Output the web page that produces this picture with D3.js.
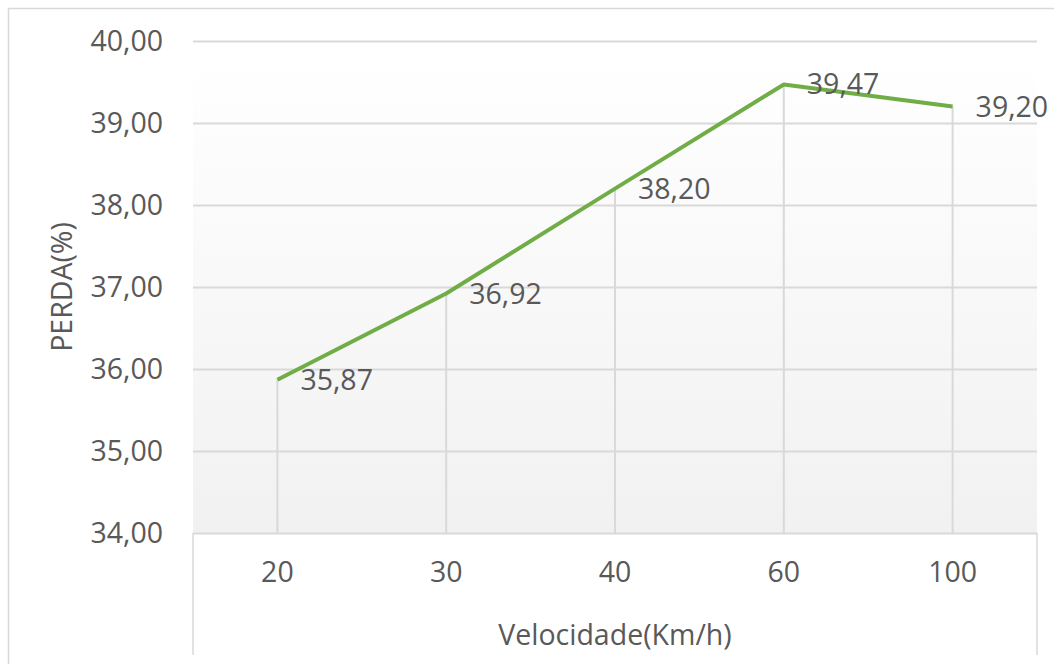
<!DOCTYPE html>
<html>
<head>
<meta charset="utf-8">
<script src="https://cdn.jsdelivr.net/npm/d3@7"></script>
<style>
  html, body { margin: 0; padding: 0; background: #fff; }
  svg text { font-family: "Open Sans", "Noto Sans", sans-serif; fill: #595959; }
</style>
</head>
<body>
<svg id="chart" width="1054" height="664"></svg>
<script>
// Speed categories (km/h) and loss values (%)
const categories = ["20", "30", "40", "60", "100"];
const perda = [35.87, 36.92, 38.20, 39.47, 39.20];
const yTicks = [34, 35, 36, 37, 38, 39, 40];
const xTitle = "Velocidade(Km/h)";
const yTitle = "PERDA(%)";

const svg = d3.select("#chart");
const plot = { left: 193, right: 1037, top: 41, bottom: 533 };
const fmt = v => d3.format(".2f")(v).replace(".", ",");
const gridColor = "#d9d9d9";
const fontSize = 28.5;

const x = d3.scaleBand().domain(categories).range([plot.left, plot.right]);
const y = d3.scaleLinear().domain([34, 40]).range([plot.bottom, plot.top]);
const cx = c => x(c) + x.bandwidth() / 2;

// outer chart frame (top and left edges)
svg.append("path")
  .attr("d", "M8.5,664 V8.5 H1054")
  .attr("fill", "none").attr("stroke", gridColor).attr("stroke-width", 1.5);

// plot area fill: white at the top fading to light grey
const defs = svg.append("defs");
const grad = defs.append("linearGradient").attr("id", "plotFill")
  .attr("x1", 0).attr("y1", 0).attr("x2", 0).attr("y2", 1);
grad.append("stop").attr("offset", "0%").attr("stop-color", "#ffffff");
grad.append("stop").attr("offset", "100%").attr("stop-color", "#f1f1f1");
svg.append("rect")
  .attr("x", plot.left).attr("y", y(39.8))
  .attr("width", plot.right - plot.left).attr("height", plot.bottom - y(39.8))
  .attr("fill", "url(#plotFill)");

// horizontal gridlines + y tick labels
const yAxis = svg.append("g")
  .attr("transform", `translate(${plot.left},0)`)
  .call(d3.axisLeft(y).tickValues(yTicks).tickFormat(fmt)
    .tickSize(-(plot.right - plot.left)).tickPadding(30));
yAxis.select(".domain").remove();
yAxis.selectAll(".tick line").attr("stroke", gridColor).attr("stroke-width", 2);
yAxis.selectAll(".tick text")
  .attr("font-size", fontSize).attr("fill", "#595959")
  .style("font-family", '"Open Sans", "Noto Sans", sans-serif');

// category axis frame below the plot
svg.append("path")
  .attr("d", `M${plot.left},${plot.bottom} V655 M${plot.right},${plot.bottom} V655`)
  .attr("fill", "none").attr("stroke", gridColor).attr("stroke-width", 1.5);

// x tick labels
const xAxis = svg.append("g")
  .attr("transform", `translate(0,${plot.bottom})`)
  .call(d3.axisBottom(x).tickSize(0).tickPadding(29));
xAxis.select(".domain").remove();
xAxis.selectAll(".tick text")
  .attr("font-size", fontSize).attr("fill", "#595959")
  .style("font-family", '"Open Sans", "Noto Sans", sans-serif');

// drop lines from each point to the axis
svg.append("g").selectAll("line")
  .data(categories)
  .join("line")
  .attr("x1", d => cx(d)).attr("x2", d => cx(d))
  .attr("y1", (d, i) => y(perda[i])).attr("y2", plot.bottom)
  .attr("stroke", gridColor).attr("stroke-width", 2);

// series line
const line = d3.line().x((d, i) => cx(categories[i])).y(d => y(d));
svg.append("path")
  .datum(perda)
  .attr("d", line)
  .attr("fill", "none")
  .attr("stroke", "#70ad47")
  .attr("stroke-width", 4)
  .attr("stroke-linejoin", "round");

// value labels to the right of each point
svg.append("g").selectAll("text")
  .data(perda)
  .join("text")
  .attr("x", (d, i) => cx(categories[i]) + 23)
  .attr("y", d => y(d))
  .attr("dy", "0.35em")
  .attr("font-size", fontSize)
  .text(d => fmt(d));

// axis titles
svg.append("text")
  .attr("x", (plot.left + plot.right) / 2).attr("y", 645)
  .attr("text-anchor", "middle").attr("font-size", fontSize)
  .text(xTitle);
svg.append("text")
  .attr("transform", `translate(72,${(plot.top + plot.bottom) / 2}) rotate(-90)`)
  .attr("text-anchor", "middle").attr("font-size", fontSize)
  .text(yTitle);
</script>
</body>
</html>
